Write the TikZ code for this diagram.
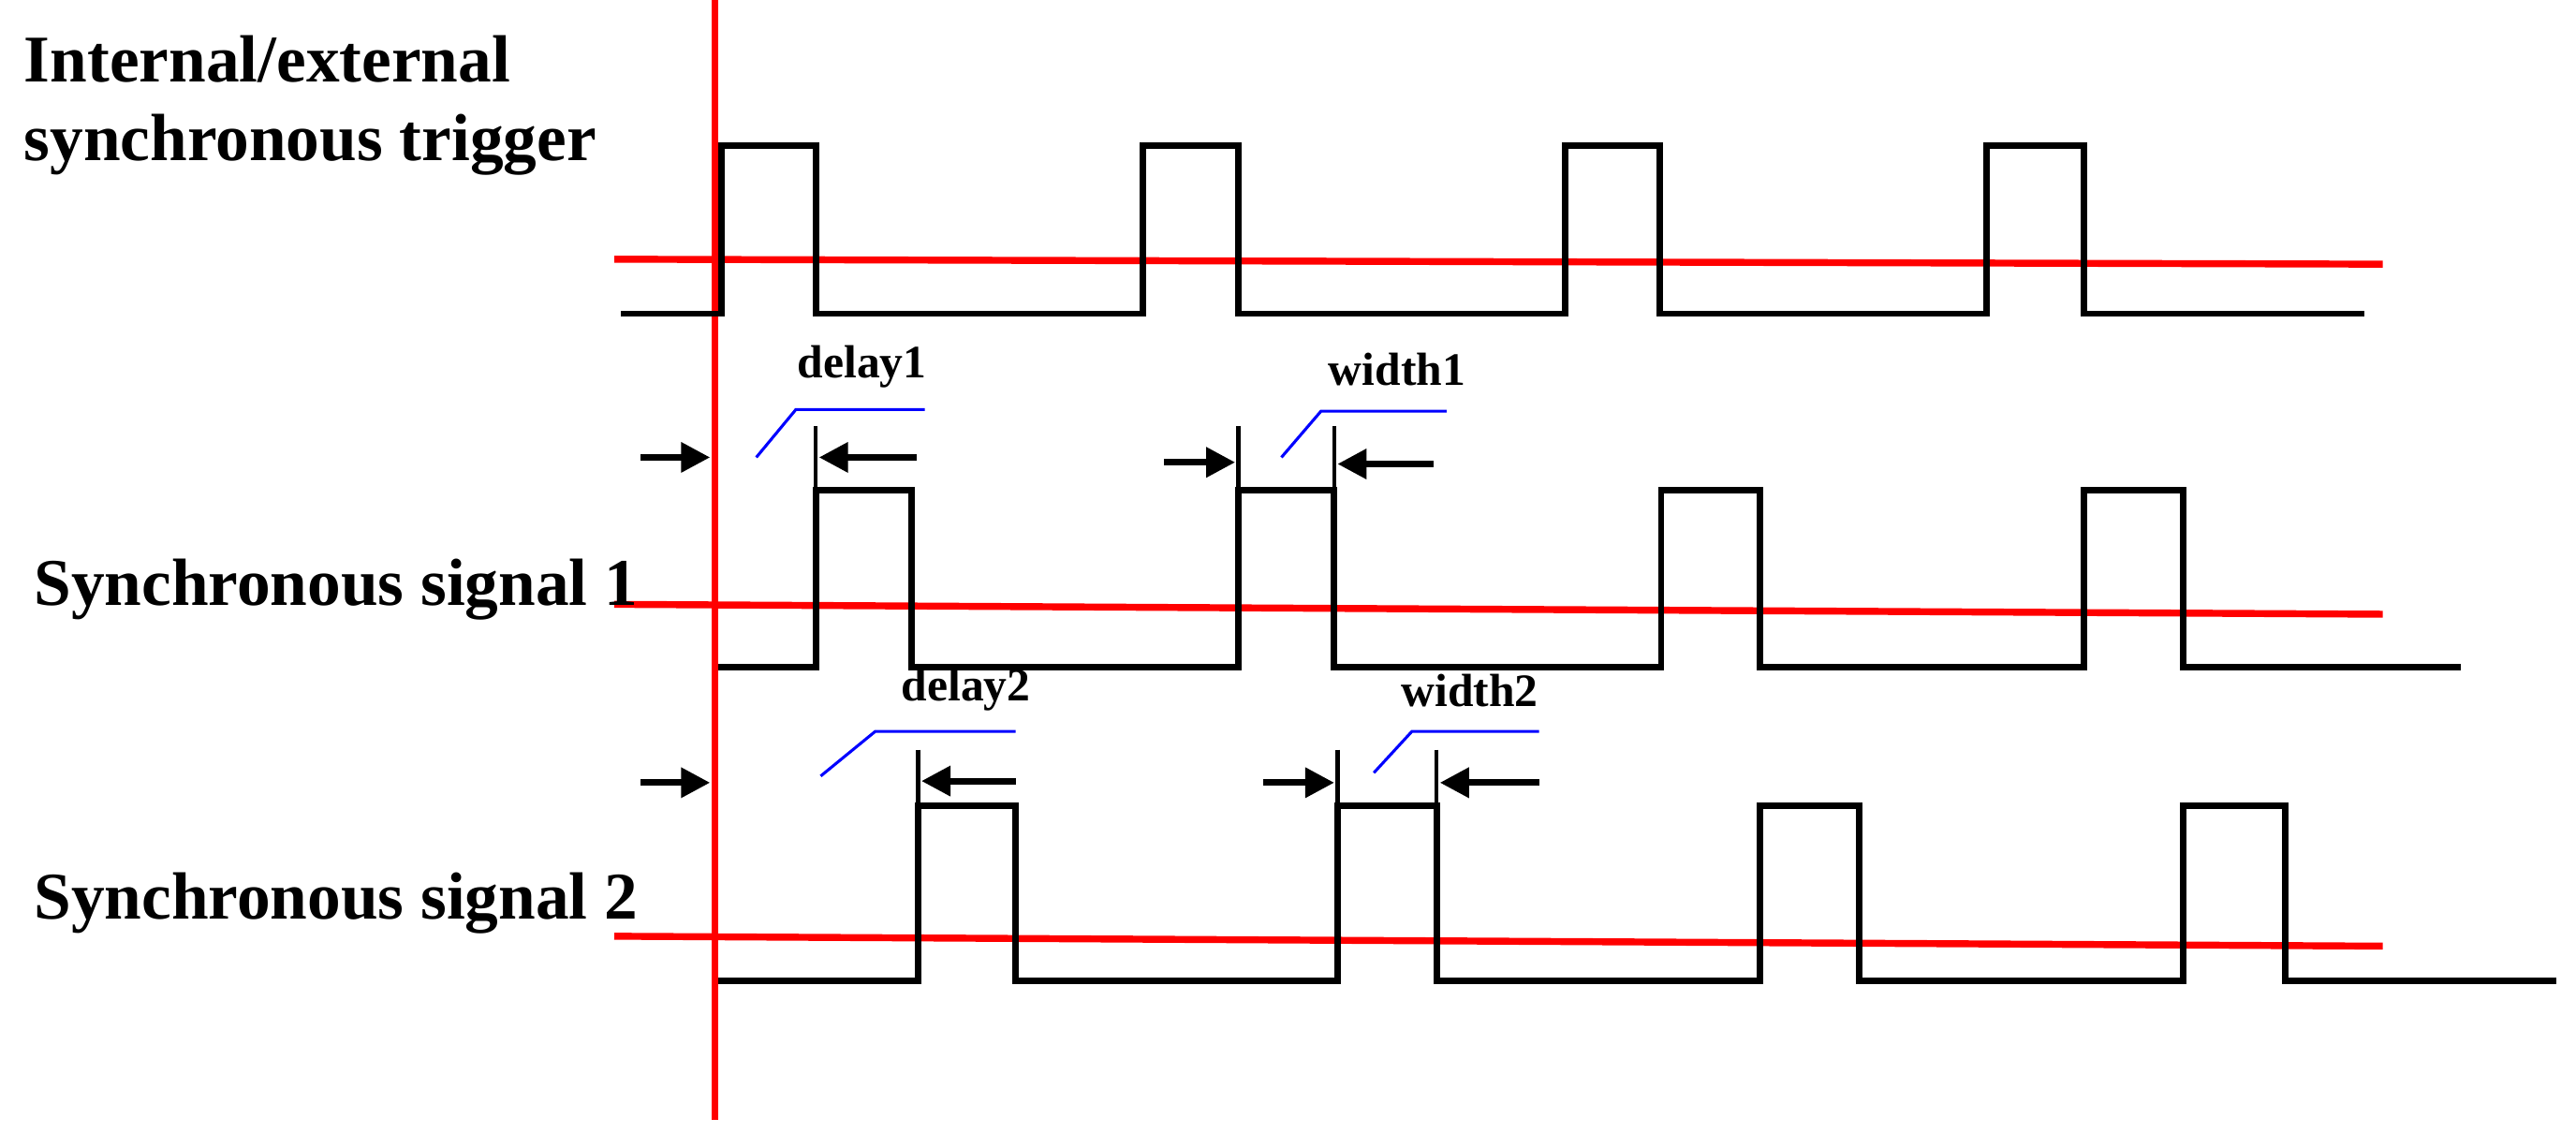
\documentclass[tikz,border=0pt]{standalone}
\usepackage{fontspec}
\setmainfont{Liberation Serif}
\usetikzlibrary{arrows.meta}
\begin{document}
\begin{tikzpicture}[x=0.01cm,y=-0.01cm,
  sig/.style={line width=1.1pt,black,line join=miter},
  rline/.style={line width=1.2pt,draw=red},
  blu/.style={line width=0.5pt,draw=blue},
  tick/.style={line width=0.7pt,black},
  arr/.style={line width=1.1pt,-{Triangle[length=5pt,width=5pt]}},
  lab/.style={font=\fontsize{11.5}{13.5}\selectfont\bfseries,anchor=west,inner sep=0},
  sm/.style={font=\fontsize{8}{9}\selectfont\bfseries,inner sep=0}]
\useasboundingbox (0,0) rectangle (1560,686);
% red lines
\draw[rline] (433,0) -- (433,678);
\draw[rline] (372,157) -- (1443,160);
\draw[rline] (372,366) -- (1443,372);
\draw[rline] (372,567) -- (1443,573);
% labels
\node[lab,align=left] (t0) at (14,64) {Internal/external\\synchronous trigger};
\node[lab] (t1) at (20,357) {Synchronous signal 1};
\node[lab] (t2) at (20,547) {Synchronous signal 2};
% trigger
\draw[sig] (376,190) -- (437,190) -- (437,88) -- (494,88) -- (494,190) -- (692,190) -- (692,88) -- (750,88) -- (750,190)
  -- (948,190) -- (948,88) -- (1005,88) -- (1005,190) -- (1203,190) -- (1203,88) -- (1262,88) -- (1262,190) -- (1432,190);
% signal 1
\draw[sig] (435,404) -- (494,404) -- (494,297) -- (552,297) -- (552,404) -- (750,404) -- (750,297) -- (808,297) -- (808,404)
  -- (1006,404) -- (1006,297) -- (1066,297) -- (1066,404) -- (1262,404) -- (1262,297) -- (1322,297) -- (1322,404) -- (1490,404);
% signal 2
\draw[sig] (435,594) -- (556,594) -- (556,488) -- (615,488) -- (615,594) -- (810,594) -- (810,488) -- (870,488) -- (870,594)
  -- (1066,594) -- (1066,488) -- (1126,488) -- (1126,594) -- (1322,594) -- (1322,488) -- (1384,488) -- (1384,594) -- (1548,594);
% signal 1 markers
\coordinate (a1) at (388,277); \coordinate (a1e) at (430,277);
\draw[arr] (a1) -- (a1e);
\draw[tick] (494,258) -- (494,297);
\coordinate (d1s) at (555,277); \coordinate (d1e) at (496,277);
\draw[arr] (d1s) -- (d1e);
\draw[blu] (458,277) -- (482,248) -- (560,248);
\node[sm] (d1) at (522,222) {delay1};
\draw[tick] (750,258) -- (750,297);
\draw[tick] (808,258) -- (808,297);
\coordinate (w1a) at (705,280); \coordinate (w1b) at (748,280);
\draw[arr] (w1a) -- (w1b);
\coordinate (w1c) at (868,281); \coordinate (w1d) at (810,281);
\draw[arr] (w1c) -- (w1d);
\draw[blu] (776,277) -- (800,249) -- (876,249);
\node[sm] (w1) at (846,224) {width1};
% signal 2 markers
\coordinate (a2) at (388,474); \coordinate (a2e) at (430,474);
\draw[arr] (a2) -- (a2e);
\draw[tick] (556,454) -- (556,488);
\coordinate (d2s) at (615,473); \coordinate (d2e) at (558,473);
\draw[arr] (d2s) -- (d2e);
\draw[blu] (497,470) -- (530,443) -- (615,443);
\node[sm] (d2) at (585,418) {delay2};
\draw[tick] (810,454) -- (810,488);
\draw[tick] (870,454) -- (870,488);
\coordinate (w2a) at (765,474); \coordinate (w2b) at (808,474);
\draw[arr] (w2a) -- (w2b);
\coordinate (w2c) at (932,474); \coordinate (w2d) at (872,474);
\draw[arr] (w2c) -- (w2d);
\draw[blu] (832,468) -- (855,443) -- (932,443);
\node[sm] (w2) at (890,418) {width2};
\end{tikzpicture}
\end{document}
